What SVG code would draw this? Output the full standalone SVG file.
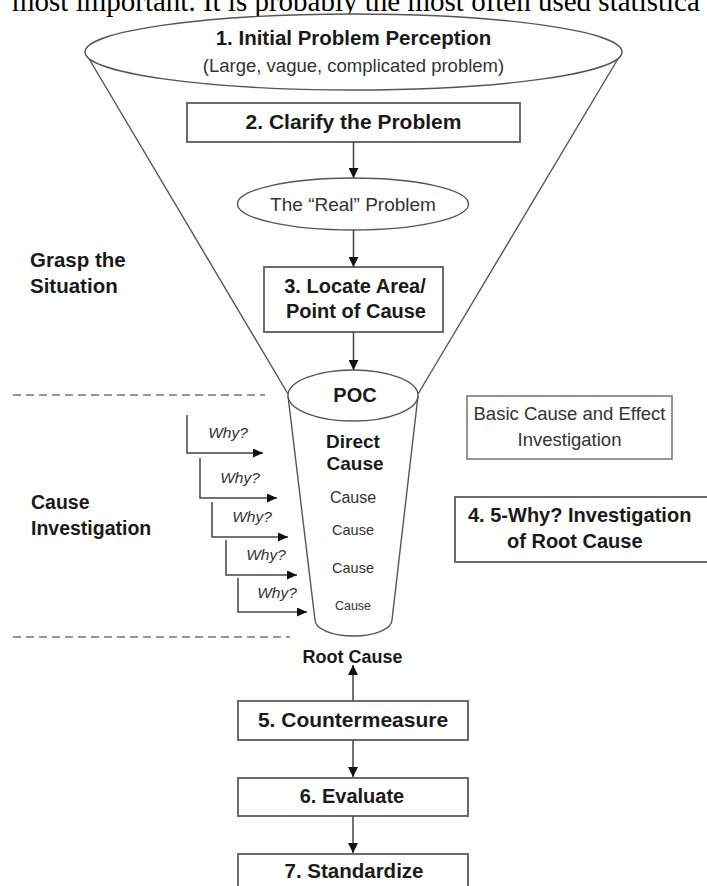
<svg xmlns="http://www.w3.org/2000/svg" width="707" height="886" viewBox="0 0 707 886">
<style>
.box{fill:#fff;stroke:#6b6b6b;stroke-width:2}
.lbox{fill:#fff;stroke:#7a7a7a;stroke-width:1.6}
.shape{fill:#fff;stroke:#555;stroke-width:1.4}
.t{font-family:"Liberation Sans",Arial,sans-serif;fill:#1a1a1a}
.b{font-weight:bold}
.c{text-anchor:middle}
.g{fill:#333}
.why{font-family:"Liberation Sans",Arial,sans-serif;font-style:italic;font-size:15.5px;fill:#333;text-anchor:middle}
.conn{stroke:#444;stroke-width:1.5;fill:none}
.dash{stroke:#777;stroke-width:1.6;stroke-dasharray:8 5;fill:none}
</style>
<defs>
<marker id="ah" viewBox="0 0 10 10" refX="10" refY="5" markerWidth="10" markerHeight="10" markerUnits="userSpaceOnUse" orient="auto"><path d="M0,0L10,5L0,10z" fill="#111"/></marker>
<marker id="ahs" viewBox="0 0 10 10" refX="10" refY="5" markerWidth="10" markerHeight="9" markerUnits="userSpaceOnUse" orient="auto" preserveAspectRatio="none"><path d="M0,0L10,5L0,10z" fill="#111"/></marker>
</defs>

<text x="12" y="11" font-family="'Liberation Serif','Times New Roman',serif" font-size="29" fill="#000">most important. It is probably the most often used statistica</text>

<g id="funnel">
<line class="shape" x1="85" y1="52" x2="288" y2="394"/>
<line class="shape" x1="622" y1="52" x2="418" y2="394"/>
<path class="shape" d="M288,396 L315,620 A38.5,16 0 0 0 392,620 L418,396"/>
</g>

<g id="n1">
<ellipse class="shape" cx="353.5" cy="52" rx="268.5" ry="38"/>
<text class="t b c" x="353.5" y="45" font-size="20.5">1. Initial Problem Perception</text>
<text class="t c g" x="353.5" y="72" font-size="18.5">(Large, vague, complicated problem)</text>
</g>

<g id="n2">
<rect class="box" x="187" y="103" width="333" height="39"/>
<text class="t b c" x="353.5" y="129" font-size="21">2. Clarify the Problem</text>
</g>

<g id="real">
<ellipse class="shape" cx="353" cy="204" rx="115.5" ry="26"/>
<text class="t c g" x="353" y="211" font-size="19">The “Real” Problem</text>
</g>

<g id="n3">
<rect class="box" x="264" y="267" width="179" height="65"/>
<text class="t b c" x="355" y="293" font-size="20">3. Locate Area/</text>
<text class="t b c" x="356" y="318" font-size="20">Point of Cause</text>
</g>

<g id="poc">
<ellipse class="shape" cx="353" cy="395.5" rx="65" ry="25.5"/>
<text class="t b c" x="355" y="402" font-size="20">POC</text>
</g>

<g id="cup-text">
<text class="t b c" x="353" y="448" font-size="19">Direct</text>
<text class="t b c" x="355" y="470" font-size="19">Cause</text>
<text class="t c g" x="353" y="503" font-size="16">Cause</text>
<text class="t c g" x="353" y="535" font-size="14.5">Cause</text>
<text class="t c g" x="353" y="573" font-size="14.5">Cause</text>
<text class="t c g" x="353" y="610" font-size="12.5">Cause</text>
</g>

<g id="basic">
<rect class="lbox" x="467" y="396" width="205" height="63"/>
<text class="t c g" x="569.5" y="420" font-size="18.5">Basic Cause and Effect</text>
<text class="t c g" x="569.5" y="446" font-size="18.5">Investigation</text>
</g>

<g id="n4">
<rect class="box" x="455" y="497" width="256" height="65"/>
<text class="t b" x="468" y="522" font-size="20">4. 5-Why? Investigation</text>
<text class="t b" x="507" y="548" font-size="20">of Root Cause</text>
</g>

<g id="labels">
<text class="t b" x="30" y="267" font-size="20.5">Grasp the</text>
<text class="t b" x="30" y="293" font-size="20.5">Situation</text>
<text class="t b" x="31" y="509" font-size="19.5">Cause</text>
<text class="t b" x="31" y="535" font-size="19.5">Investigation</text>
<text class="t b c" x="352.5" y="663" font-size="18">Root Cause</text>
</g>

<g id="n5">
<rect class="box" x="238" y="701" width="230" height="39"/>
<text class="t b c" x="353" y="727" font-size="21">5. Countermeasure</text>
</g>

<g id="n6">
<rect class="box" x="238" y="778" width="230" height="38"/>
<text class="t b c" x="352" y="803" font-size="20">6. Evaluate</text>
</g>

<g id="n7">
<rect class="box" x="238" y="854" width="230" height="40"/>
<text class="t b c" x="354" y="878" font-size="20.5">7. Standardize</text>
</g>

<g id="connectors">
<path class="dash" d="M13,395H265"/>
<path class="dash" d="M13,637H290"/>
<path class="conn" d="M353.5,142V178" marker-end="url(#ah)"/>
<path class="conn" d="M353.5,230V267" marker-end="url(#ah)"/>
<path class="conn" d="M353.5,332V370" marker-end="url(#ah)"/>
<path class="conn" d="M353,701V665" marker-end="url(#ah)"/>
<path class="conn" d="M353,740V777" marker-end="url(#ah)"/>
<path class="conn" d="M353,816V853" marker-end="url(#ah)"/>
<path class="conn" d="M187,415V453H263" marker-end="url(#ahs)"/>
<path class="conn" d="M200,458V498H277" marker-end="url(#ahs)"/>
<path class="conn" d="M212,502V537H288" marker-end="url(#ahs)"/>
<path class="conn" d="M226,540V575H297" marker-end="url(#ahs)"/>
<path class="conn" d="M238,578V612H307" marker-end="url(#ahs)"/>
<text class="why" x="228" y="438">Why?</text>
<text class="why" x="240" y="483">Why?</text>
<text class="why" x="252" y="522">Why?</text>
<text class="why" x="266" y="560">Why?</text>
<text class="why" x="277" y="598">Why?</text>
</g>
</svg>
